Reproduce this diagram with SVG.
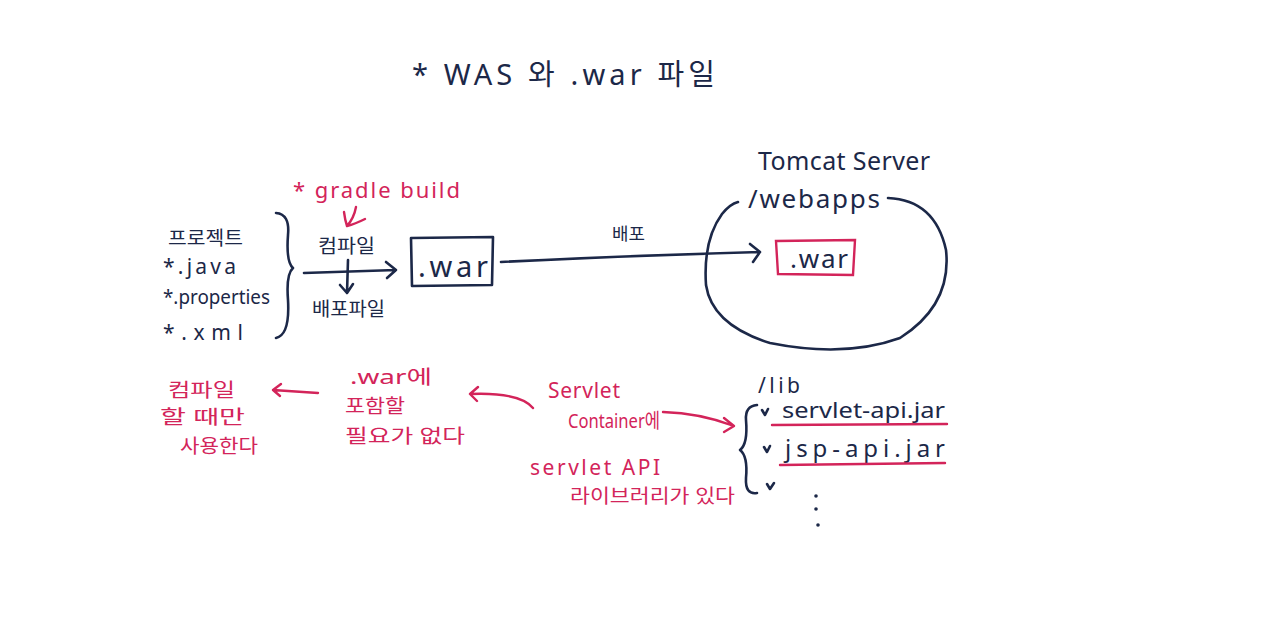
<svg xmlns="http://www.w3.org/2000/svg" width="1280" height="635" viewBox="0 0 1280 635">
<defs>
<style>
.n{fill:#1c2848;font-family:"Noto Sans","Noto Sans CJK KR",sans-serif}
.r{fill:#d3245a;font-family:"Noto Sans","Noto Sans CJK KR",sans-serif}
.ln{fill:none;stroke:#1c2848;stroke-width:2.6;stroke-linecap:round;stroke-linejoin:round}
.lr{fill:none;stroke:#d3245a;stroke-width:2.4;stroke-linecap:round;stroke-linejoin:round}
</style>
</defs>
<rect width="1280" height="635" fill="#ffffff"/>

<g id="title">
<text class="n" x="412" y="85" font-size="29" textLength="303" lengthAdjust="spacing">* WAS 와 .war 파일</text>
</g>

<g id="sources">
<text class="n" x="168" y="245" font-size="19" textLength="75" lengthAdjust="spacingAndGlyphs">프로젝트</text>
<text class="n" x="163" y="274" font-size="21" textLength="73" lengthAdjust="spacing">*.java</text>
<text class="n" x="163" y="304" font-size="19" textLength="107" lengthAdjust="spacingAndGlyphs">*.properties</text>
<text class="n" x="163" y="340" font-size="21" textLength="80" lengthAdjust="spacing">*.xml</text>
<path class="ln" d="M276 213 Q290 214 288 235 Q286 262 293 268 Q286 274 288 300 Q290 335 276 338"/>
</g>

<g id="build">
<text class="r" x="293" y="198" font-size="22" textLength="167" lengthAdjust="spacing">* gradle build</text>
<path class="lr" d="M356 207 Q354 218 347 226 M344 212 Q345 220 347 226 Q355 224 365 219"/>
<text class="n" x="318" y="253" font-size="19" textLength="57" lengthAdjust="spacingAndGlyphs">컴파일</text>
<text class="n" x="312" y="316" font-size="19" textLength="73" lengthAdjust="spacingAndGlyphs">배포파일</text>
</g>

<g id="war">
<path class="ln" d="M411 238 L493 237 L492 285 L412 286 Z"/>
<text class="n" x="418" y="277" font-size="29" textLength="70" lengthAdjust="spacing">.war</text>
</g>

<g id="tomcat">
<text class="n" x="758" y="170" font-size="25" textLength="172" lengthAdjust="spacing">Tomcat Server</text>
<text class="n" x="748" y="208" font-size="26" textLength="132" lengthAdjust="spacing">/webapps</text>
<path class="ln" d="M888 198 Q935 200 946 250 Q952 305 900 338 Q845 358 770 343 Q712 325 706 285 Q703 240 722 214 Q730 204 738 202"/>
<path d="M776 241 L855 240 L853 275 L778 274 Z" fill="none" stroke="#d3245a" stroke-width="2.4"/>
<text class="n" x="790" y="268" font-size="26" textLength="58" lengthAdjust="spacing">.war</text>
</g>

<g id="lib">
<text class="n" x="758" y="393" font-size="21" textLength="42" lengthAdjust="spacing">/lib</text>
<path class="ln" d="M757 405 Q745 406 746 420 Q748 444 740 450 Q748 456 746 478 Q745 495 757 493"/>
<path class="ln" d="M762 410 L765 415 L768 409"/>
<text class="n" x="782" y="418" font-size="22" textLength="163" lengthAdjust="spacingAndGlyphs">servlet-api.jar</text>
<path class="lr" d="M772 425 L947 424"/>
<path class="ln" d="M764 447 L767 452 L770 446"/>
<text class="n" x="785" y="457" font-size="24" textLength="160" lengthAdjust="spacing">jsp-api.jar</text>
<path class="lr" d="M780 465 L945 463"/>
<path class="ln" d="M767 484 L770 489 L774 483"/>
<circle cx="816" cy="496" r="1.8" fill="#1c2848"/>
<circle cx="816" cy="509" r="1.8" fill="#1c2848"/>
<circle cx="818" cy="525" r="1.8" fill="#1c2848"/>
</g>

<g id="note-compile">
<text class="r" x="168" y="397" font-size="19" textLength="67" lengthAdjust="spacingAndGlyphs">컴파일</text>
<text class="r" x="160" y="424" font-size="19" textLength="85" lengthAdjust="spacingAndGlyphs">할 때만</text>
<text class="r" x="180" y="453" font-size="19" textLength="78" lengthAdjust="spacingAndGlyphs">사용한다</text>
</g>

<g id="note-war">
<text class="r" x="350" y="384" font-size="19" textLength="82" lengthAdjust="spacingAndGlyphs">.war에</text>
<text class="r" x="345" y="413" font-size="19" textLength="60" lengthAdjust="spacingAndGlyphs">포함할</text>
<text class="r" x="345" y="443" font-size="19" textLength="120" lengthAdjust="spacingAndGlyphs">필요가 없다</text>
</g>

<g id="note-servlet">
<text class="r" x="548" y="398" font-size="21" textLength="72" lengthAdjust="spacing">Servlet</text>
<text class="r" x="568" y="428" font-size="20" textLength="92" lengthAdjust="spacingAndGlyphs">Container에</text>
<text class="r" x="530" y="475" font-size="21" textLength="130" lengthAdjust="spacing">servlet API</text>
<text class="r" x="570" y="503" font-size="19" textLength="165" lengthAdjust="spacingAndGlyphs">라이브러리가 있다</text>
</g>

<g id="connectors">
<path class="ln" d="M304 273 L396 270 M386 262 L396 270 L387 278"/>
<path class="ln" d="M348 260 L347 293 M340 285 L347 293 L353 284"/>
<path class="ln" d="M501 262 Q620 256 760 252 M750 244 L760 252 L753 262"/>
<text class="n" x="612" y="240" font-size="17" textLength="33" lengthAdjust="spacingAndGlyphs">배포</text>
<path class="lr" d="M318 393 L273 390 M281 384 L273 390 L280 396"/>
<path class="lr" d="M533 408 Q520 392 470 394 M478 387 L470 394 L477 401"/>
<path class="lr" d="M663 412 Q700 413 734 426 M724 418 L734 426 L724 432"/>
</g>
</svg>
